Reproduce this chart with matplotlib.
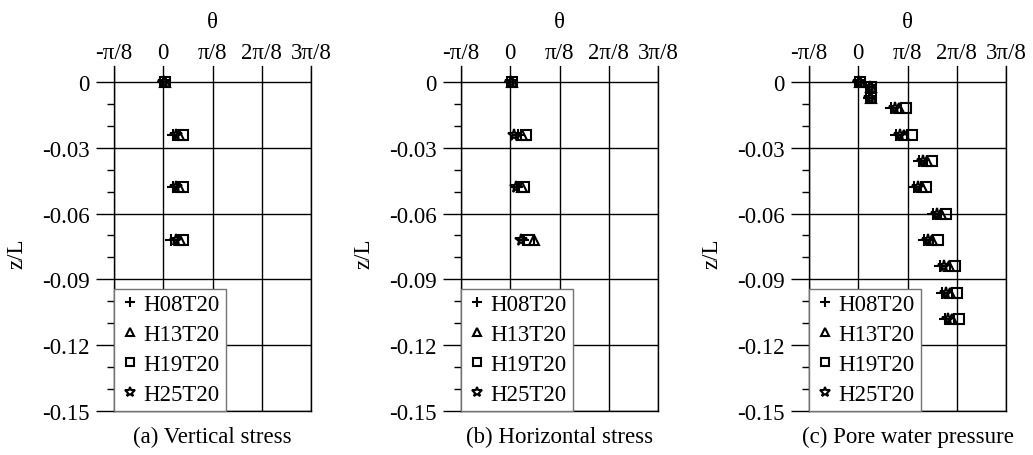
#!/usr/bin/env python3

import numpy as np
import matplotlib
matplotlib.use('Agg')
import matplotlib.pyplot as plt

plt.rcParams['font.family'] = ['Liberation Serif', 'DejaVu Serif']

series = ['H08T20', 'H13T20', 'H19T20', 'H25T20']
markers = ['+', '^', 's', '*']

# (a) vertical stress
z_a = [0.0, -0.024, -0.048, -0.072]
theta_a = {
    'H08T20': [0.000, 0.075, 0.075, 0.060],
    'H13T20': [0.010, 0.125, 0.125, 0.130],
    'H19T20': [0.010, 0.160, 0.160, 0.160],
    'H25T20': [0.005, 0.100, 0.100, 0.100],
}

# (b) horizontal stress
z_b = [0.0, -0.024, -0.048, -0.072]
theta_b = {
    'H08T20': [0.000, 0.060, 0.050, 0.100],
    'H13T20': [0.010, 0.090, 0.090, 0.190],
    'H19T20': [0.010, 0.124, 0.110, 0.150],
    'H25T20': [0.005, 0.030, 0.045, 0.085],
}

# (c) pore water pressure
z_c = [0.0, -0.0025, -0.0075, -0.012, -0.024, -0.036, -0.048,
       -0.060, -0.072, -0.084, -0.096, -0.108]
theta_c = {
    'H08T20': [0.000, 0.085, 0.085, 0.260, 0.300, 0.485, 0.446,
               0.595, 0.525, 0.655, 0.670, 0.690],
    'H13T20': [0.010, 0.100, 0.100, 0.325, 0.365, 0.545, 0.505,
               0.660, 0.585, 0.720, 0.735, 0.750],
    'H19T20': [0.010, 0.100, 0.100, 0.380, 0.430, 0.590, 0.540,
               0.700, 0.635, 0.775, 0.785, 0.800],
    'H25T20': [0.005, 0.090, 0.090, 0.295, 0.335, 0.515, 0.475,
               0.625, 0.555, 0.685, 0.700, 0.715],
}

xticks = [-np.pi / 8, 0, np.pi / 8, 2 * np.pi / 8, 3 * np.pi / 8]
xticklabels = ['-π/8', '0', 'π/8', '2π/8', '3π/8']
yticks = [0, -0.03, -0.06, -0.09, -0.12, -0.15]
yticklabels = ['0', '-0.03', '-0.06', '-0.09', '-0.12', '-0.15']
captions = ['(a) Vertical stress', '(b) Horizontal stress', '(c) Pore water pressure']

FS = 16.5
W, H = 1033, 456
f = plt.figure(figsize=(W / 100, H / 100), dpi=100)

lefts = [114, 461, 809]
ax_w = 197
ax_top, ax_bot = 66.7, 412

panels = [(z_a, theta_a), (z_b, theta_b), (z_c, theta_c)]
for i, (z, theta) in enumerate(panels):
    ax = f.add_axes([lefts[i] / W, 1 - ax_bot / H, ax_w / W, (ax_bot - ax_top) / H])
    for s, m in zip(series, markers):
        ms = 8.5 if m in ('+', '*') else 7
        ax.plot(theta[s], z, linestyle='none', marker=m, ms=ms,
                mfc='none', mec='k', mew=1.5, label=s, zorder=3, clip_on=False)

    ax.set_xlim(-np.pi / 8, 3 * np.pi / 8)
    ax.set_ylim(-0.15, 0.0074)
    ax.spines['top'].set_visible(False)
    for sp in ['left', 'right', 'bottom']:
        ax.spines[sp].set_linewidth(1.0)

    ax.xaxis.tick_top()
    ax.xaxis.set_label_position('top')
    ax.set_xticks(xticks)
    ax.set_xticklabels(xticklabels)
    ax.tick_params(axis='x', length=0, pad=2, labelsize=FS)
    ax.set_xlabel('θ', fontsize=FS, labelpad=10.5)

    ax.set_yticks(yticks)
    ax.set_yticklabels(yticklabels)
    ax.set_yticks(np.arange(-0.15, 0.0001, 0.01), minor=True)
    ax.tick_params(axis='y', which='major', direction='out', length=12.7,
                   width=1.0, pad=5, labelsize=FS)
    ax.tick_params(axis='y', which='minor', direction='out', length=5, width=1.0)
    ax.set_ylabel('z/L', fontsize=FS)
    ax.yaxis.set_label_coords(-0.44, 0.4576)

    ax.grid(True, which='major', color='k', linewidth=1.0)
    ax.set_axisbelow(True)

    leg = ax.legend(loc='lower left', borderaxespad=0, fontsize=FS,
                    fancybox=False, framealpha=1, edgecolor='0.45',
                    handlelength=0.9, handletextpad=0.15, borderpad=0.25,
                    labelspacing=0.39, markerscale=0.85)
    leg.get_frame().set_linewidth(1.0)
    leg.set_zorder(5)

    f.text((lefts[i] + ax_w / 2) / W, 1 - 437 / H, captions[i],
           ha='center', va='center', fontsize=FS)

f.savefig('out.png', dpi=100)
